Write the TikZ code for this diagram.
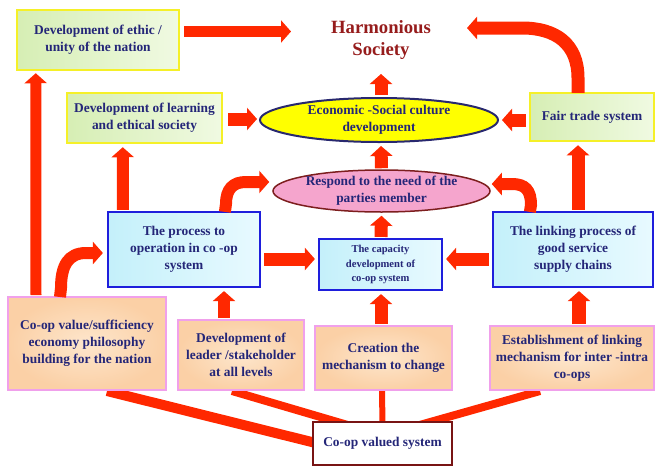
\documentclass[tikz,border=0pt]{standalone}
\usepackage{fontspec}
\setmainfont{Liberation Serif}
\usetikzlibrary{shapes.geometric,arrows.meta,calc}

\definecolor{flowred}{RGB}{255,40,0}
\definecolor{inknavy}{RGB}{36,38,120}
\definecolor{harmred}{RGB}{150,28,28}
\definecolor{greenfillA}{RGB}{214,238,180}
\definecolor{greenfillB}{RGB}{240,250,226}
\definecolor{yellowedge}{RGB}{245,240,40}
\definecolor{cyanfillA}{RGB}{196,240,250}
\definecolor{cyanfillB}{RGB}{232,250,255}
\definecolor{blueedge}{RGB}{30,30,220}
\definecolor{peachA}{RGB}{251,208,166}
\definecolor{peachB}{RGB}{253,230,204}
\definecolor{pinkedge}{RGB}{240,160,235}
\definecolor{ellyellow}{RGB}{255,255,0}
\definecolor{ellnavy}{RGB}{40,40,110}
\definecolor{ellpink}{RGB}{245,165,205}
\definecolor{ellbrown}{RGB}{125,30,30}
\definecolor{cvedge}{RGB}{120,20,20}

\pgfdeclarelayer{background}
\pgfsetlayers{background,main}

\begin{document}
\begin{tikzpicture}[x=1pt,y=-1pt,
  txt/.style={font=\bfseries\fontsize{13.4}{17}\selectfont, text=inknavy, align=center, inner sep=0pt},
  boxsize/.style 2 args={minimum width=#1pt, minimum height=#2pt},
  greenbox/.style={txt, draw=yellowedge, line width=2.5pt, left color=greenfillA, right color=greenfillB},
  bluebox/.style={txt, draw=blueedge, line width=2.2pt, left color=cyanfillA, right color=cyanfillB},
  peachbox/.style={txt, draw=pinkedge, line width=2pt, inner color=peachB, outer color=peachA},
  valuebox/.style={txt, draw=cvedge, line width=2.5pt, fill=white},
  yellowoval/.style={txt, ellipse, draw=ellnavy, line width=2pt, fill=ellyellow},
  pinkoval/.style={txt, ellipse, draw=ellbrown, line width=1.5pt, fill=ellpink},
  flowarrow/.style={draw=flowred, line width=#1, -{Triangle[width=22pt,length=10pt]}},
  flowarrow/.default=11pt,
  band/.style={draw=flowred, line width=#1},
]
\useasboundingbox (0,0) rectangle (655,466);

% title
\node[font=\bfseries\fontsize{18.7}{22.5}\selectfont, text=harmred, align=center, inner sep=0pt]
  (harm) at (381,40) {Harmonious\\Society};
\coordinate (harmleft)  at (291,31.5);
\coordinate (harmfoot)  at (381,74);
\coordinate (harmright) at (467,28);

% upper row
\node[greenbox, boxsize={162}{60}] (ethic) at (98,40) {Development of ethic /\\unity of the nation};
\node[greenbox, boxsize={155}{50}] (learning) at (144.5,118) {Development of learning\\and ethical society};
\node[greenbox, boxsize={124}{48}] (fair) at (592,117) {Fair trade system};
\node[yellowoval, boxsize={238}{44}] (econ) at (379,120) {Economic -Social culture\\development};
\node[pinkoval, boxsize={217}{42}] (respond) at (381.5,191) {Respond to the need of the\\parties member};

% middle row
\node[bluebox, boxsize={152}{75}] (process) at (184,249.5) {The process to\\operation in co -op\\system};
\node[bluebox, boxsize={123}{51}, font=\bfseries\fontsize{10.6}{14.5}\selectfont] (capacity) at (380.5,264.5)
  {The capacity\\development of\\co-op system};
\node[bluebox, boxsize={160}{75}] (linking) at (573,249.5) {The linking process of\\good service\\supply chains};

% lower row
\node[peachbox, boxsize={158}{93}] (coopval) at (87,343.5) {Co-op value/sufficiency\\economy philosophy\\building for the nation};
\node[peachbox, boxsize={126}{70}] (leader) at (241,355) {Development of\\leader /stakeholder\\at all levels};
\node[peachbox, boxsize={137}{64}] (creation) at (383.5,358) {Creation the\\mechanism to change};
\node[peachbox, boxsize={164}{64}] (establish) at (572,358) {Establishment of linking\\mechanism for inter -intra\\co-ops};
\node[valuebox, boxsize={139}{43}] (cv) at (382.5,443.5) {Co-op valued system};

% bands from the value system to the lower boxes
\begin{pgfonlayer}{background}
  \draw[band=10pt] ($(coopval.south)+(20,0)$) -- ($(cv.west)+(2,-1)$);
  \draw[band=8pt]  ($(leader.south)+(-9,0)$) -- ($(cv.north west)+(35,4)$);
  \draw[band=6pt]  ($(creation.south)+(-1.5,0)$) -- ($(cv.north)+(0,4)$);
  \draw[band=8pt]  ($(establish.south)+(-32,0)$) -- ($(cv.north)+(38,4)$);
\end{pgfonlayer}

% straight arrows
\draw[flowarrow] ($(ethic.east)+(4,-8.5)$) -- (harmleft);
\draw[flowarrow] ($(coopval.north west)+(29,-1)$) -- ($(ethic.south west)+(20,2)$);
\draw[flowarrow=12pt] ($(process.north west)+(16,-1)$) -- ($(learning.south west)+(57,3)$);
\draw[flowarrow=13pt] ($(learning.east)+(5,1)$) -- ($(econ.west)+(-2,-1)$);
\draw[flowarrow=13pt] ($(econ.north)+(2,-2)$) -- (harmfoot);
\draw[flowarrow=13pt] ($(respond.north)+(0,-1)$) -- ($(econ.south)+(2,3)$);
\draw[flowarrow=13pt] ($(fair.west)+(-3,3)$) -- ($(econ.east)+(3,0)$);
\draw[flowarrow=13pt] ($(linking.north)+(5,-1)$) -- ($(fair.south)+(-14,3)$);
\draw[flowarrow=13pt] ($(process.east)+(3,9.5)$) -- ($(capacity.west)+(-3,-5.5)$);
\draw[flowarrow=13pt] ($(linking.west)+(-3,9.5)$) -- ($(capacity.east)+(3,-5.5)$);
\draw[flowarrow=13pt] ($(capacity.north)+(0.5,-1)$) -- ($(respond.south)+(0,3)$);
\draw[flowarrow=12pt] ($(leader.north)+(-17,-1)$) -- ($(process.south)+(40,3)$);
\draw[flowarrow=13pt] ($(creation.north)+(-2.5,-1)$) -- ($(capacity.south)+(0.5,3)$);
\draw[flowarrow=14pt] ($(establish.north)+(7,-1)$) -- ($(linking.south)+(6,3)$);

% curved arrows
\draw[flowarrow=13pt] ($(fair.north)+(-14,1)$) -- (578,78)
  .. controls (578,44) and (556,28) .. (522,28) -- (harmright);
\draw[flowarrow=12pt] ($(process.north west)+(118,1)$) -- (226,204)
  .. controls (226,189) and (233,182) .. (246,182) -- ($(respond.west)+(-3,-9)$);
\draw[flowarrow=12pt] ($(linking.north west)+(38,1)$) -- (531,205)
  .. controls (531,190) and (525,184) .. (512,184) -- ($(respond.east)+(1,-7)$);
\draw[flowarrow=12pt] ($(coopval.north west)+(53,1)$) -- (61,288)
  .. controls (61,266) and (68,253) .. (86,253) -- ($(process.west)+(-4,3.5)$);
\end{tikzpicture}
\end{document}
